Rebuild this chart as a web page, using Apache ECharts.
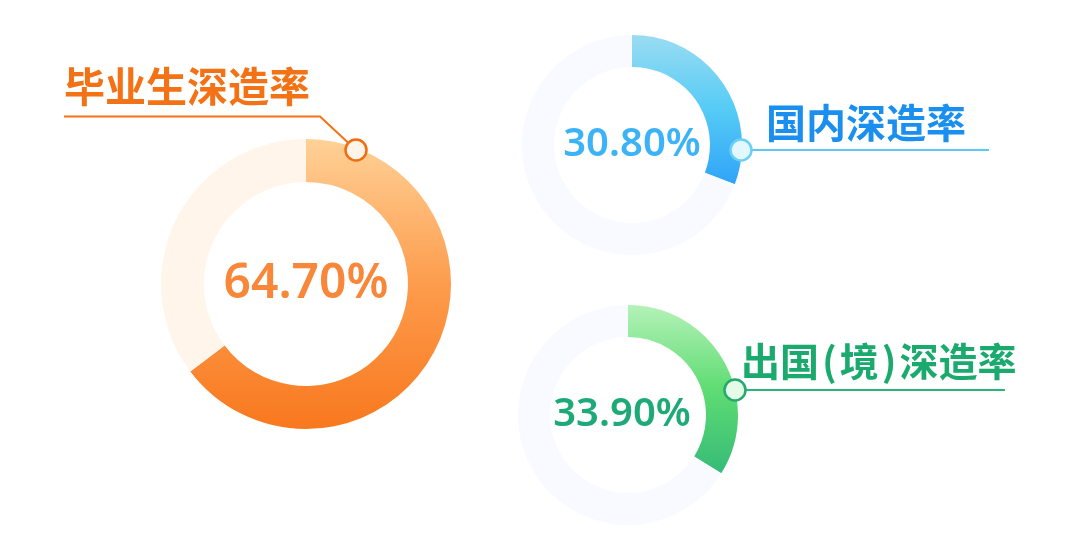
<!DOCTYPE html>
<html>
<head>
<meta charset="utf-8">
<script src="https://cdn.jsdelivr.net/npm/echarts@6/dist/echarts.min.js"></script>
<style>
html,body{margin:0;padding:0;background:#fff;}
#c{width:1080px;height:560px;}
</style>
</head>
<body>
<div id="c"></div>
<script>
// ---- data ----
const categories = ['毕业生深造率', '国内深造率', '出国(境)深造率'];
const rates = [64.7, 30.8, 33.9];

// ---- styles ----
const pieCenters = [[306, 284], [632, 145], [628, 415]];
const pieRadii = [[102, 145], [78, 110], [78, 110]];
const gradStops = [
  [[0, '#ffd197'], [0.5, '#fd9c4d'], [1, '#f8781e']],
  [[0, '#9adcf2'], [0.5, '#55cbf6'], [1, '#2fa4f8']],
  [[0, '#b4f2b8'], [0.5, '#5fdc73'], [1, '#36bb78']]
];
const trackColors = ['#fff5ea', '#f8faff', '#f8faff'];
const numColors = ['#f8873a', '#3bb3f6', '#1daa78'];
const numSizes = [48, 40, 40];
const labelColors = ['#f47216', '#1a8ff0', '#1aaa6e'];
const lineColors = ['#f47216', '#5cc8f6', '#2ab57a'];
const dotFills = ['#fff4e8', '#e3f8fe', '#e4fbe7'];
const dotStrokes = ['#f26c10', '#6ccff6', '#25a96f'];

const chart = echarts.init(document.getElementById('c'), null, {renderer: 'canvas'});

const series = rates.map((v, i) => ({
  type: 'pie',
  center: pieCenters[i],
  radius: pieRadii[i],
  startAngle: 90,
  clockwise: true,
  silent: true,
  animation: false,
  labelLine: {show: false},
  data: [
    {
      value: v,
      name: categories[i],
      itemStyle: {
        color: new echarts.graphic.LinearGradient(0, 0, 0, 1,
          gradStops[i].map(s => ({offset: s[0], color: s[1]})))
      },
      label: {
        show: true,
        position: 'center',
        formatter: v.toFixed(2) + '%',
        fontFamily: '"Noto Sans", Roboto, sans-serif',
        fontWeight: 600,
        fontSize: numSizes[i],
        color: numColors[i],
        offset: i === 2 ? [-6, 0] : [0, 0]
      }
    },
    {
      value: 100 - v,
      name: 'rest',
      itemStyle: {color: trackColors[i]},
      label: {show: false}
    }
  ]
}));

function richLabel(t) {
  return t.split(/([()])/).filter(s => s.length).map(s =>
    (s === '(' || s === ')') ? '{p|' + s + '}' : '{a|' + s + '}').join('');
}

const cjk = '"Noto Sans CJK SC", sans-serif';
const labelPos = [[64, 86, 41], [766, 123, 40], [741, 361, 39]];
const lines = [
  [[64, 116.5], [320, 116.5], [356, 150]],
  [[741, 150], [989, 150]],
  [[735, 390], [1005, 390]]
];
const dots = [[356, 150], [741, 150], [735, 390]];

const graphic = [];
categories.forEach((c, i) => {
  graphic.push({
    type: 'polyline', z: 100, silent: true,
    shape: {points: lines[i]},
    style: {stroke: lineColors[i], lineWidth: 2, fill: null}
  });
  graphic.push({
    type: 'circle', z: 101, silent: true,
    shape: {cx: dots[i][0], cy: dots[i][1], r: 10.5},
    style: {fill: dotFills[i], stroke: dotStrokes[i], lineWidth: 2.5}
  });
  const fs = labelPos[i][2];
  graphic.push({
    type: 'text', z: 100, silent: true,
    x: labelPos[i][0], y: labelPos[i][1],
    style: {
      text: richLabel(c),
      textVerticalAlign: 'middle',
      verticalAlign: 'middle',
      align: 'left',
      rich: {
        a: {fontFamily: cjk, fontWeight: 'bold', fontSize: fs, fill: labelColors[i], color: labelColors[i]},
        p: {fontFamily: cjk, fontWeight: 'bold', fontSize: fs, fill: labelColors[i], color: labelColors[i], padding: [0, 3]}
      }
    }
  });
});

chart.setOption({
  backgroundColor: '#ffffff',
  animation: false,
  series: series,
  graphic: graphic
});
</script>
</body>
</html>
